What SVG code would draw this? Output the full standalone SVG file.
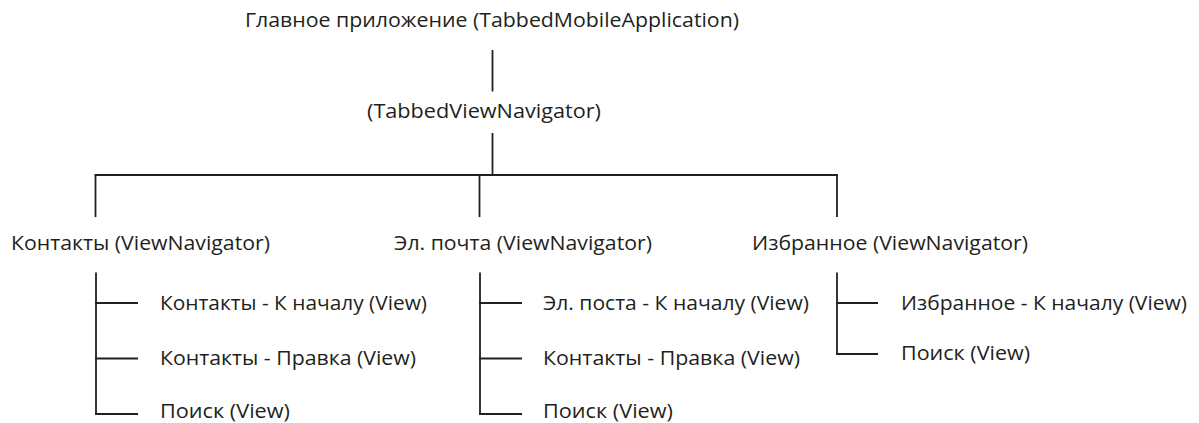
<svg xmlns="http://www.w3.org/2000/svg" width="1199" height="423" viewBox="0 0 1199 423">
<style>
text{font-family:"Open Sans","Noto Sans","DejaVu Sans",sans-serif;font-size:20.5px;fill:#231f20}
.c line{stroke:#231f20;stroke-width:1.8;fill:none}
</style>
<rect width="1199" height="423" fill="#fff"/>
<g class="c" id="connectors">
<line x1="492.5" y1="50" x2="492.5" y2="91.5"/>
<line x1="492.5" y1="133" x2="492.5" y2="175"/>
<line x1="94.6" y1="175" x2="837.9" y2="175"/>
<line x1="95.5" y1="175" x2="95.5" y2="217"/>
<line x1="479.5" y1="175" x2="479.5" y2="217"/>
<line x1="837" y1="175" x2="837" y2="217"/>
<line x1="96" y1="272.5" x2="96" y2="414"/>
<line x1="95.1" y1="303" x2="138" y2="303"/>
<line x1="95.1" y1="358.5" x2="138" y2="358.5"/>
<line x1="95.1" y1="414" x2="138" y2="414"/>
<line x1="480" y1="272.5" x2="480" y2="414"/>
<line x1="479.1" y1="303" x2="522" y2="303"/>
<line x1="479.1" y1="358.5" x2="522" y2="358.5"/>
<line x1="479.1" y1="414" x2="522" y2="414"/>
<line x1="837" y1="272.5" x2="837" y2="354"/>
<line x1="836.1" y1="303" x2="878" y2="303"/>
<line x1="836.1" y1="354" x2="878" y2="354"/>
</g>
<g id="root"><text x="245" y="27" textLength="494" lengthAdjust="spacingAndGlyphs">Главное приложение (TabbedMobileApplication)</text></g>
<g id="tabbed"><text x="367" y="118" textLength="234" lengthAdjust="spacingAndGlyphs">(TabbedViewNavigator)</text></g>
<g id="contacts"><text x="11" y="250" textLength="259" lengthAdjust="spacingAndGlyphs">Контакты (ViewNavigator)</text></g>
<g id="email"><text x="394" y="250" textLength="258" lengthAdjust="spacingAndGlyphs">Эл. почта (ViewNavigator)</text></g>
<g id="favorites"><text x="752" y="250" textLength="276" lengthAdjust="spacingAndGlyphs">Избранное (ViewNavigator)</text></g>
<g id="c-home"><text x="160" y="310" textLength="267" lengthAdjust="spacingAndGlyphs">Контакты - К началу (View)</text></g>
<g id="c-edit"><text x="160" y="365" textLength="256" lengthAdjust="spacingAndGlyphs">Контакты - Правка (View)</text></g>
<g id="c-search"><text x="160" y="418" textLength="130" lengthAdjust="spacingAndGlyphs">Поиск (View)</text></g>
<g id="e-home"><text x="543" y="310" textLength="266" lengthAdjust="spacingAndGlyphs">Эл. поста - К началу (View)</text></g>
<g id="e-edit"><text x="543" y="365" textLength="257" lengthAdjust="spacingAndGlyphs">Контакты - Правка (View)</text></g>
<g id="e-search"><text x="543" y="418" textLength="130" lengthAdjust="spacingAndGlyphs">Поиск (View)</text></g>
<g id="f-home"><text x="901" y="310" textLength="286" lengthAdjust="spacingAndGlyphs">Избранное - К началу (View)</text></g>
<g id="f-search"><text x="901" y="360" textLength="129" lengthAdjust="spacingAndGlyphs">Поиск (View)</text></g>
</svg>
